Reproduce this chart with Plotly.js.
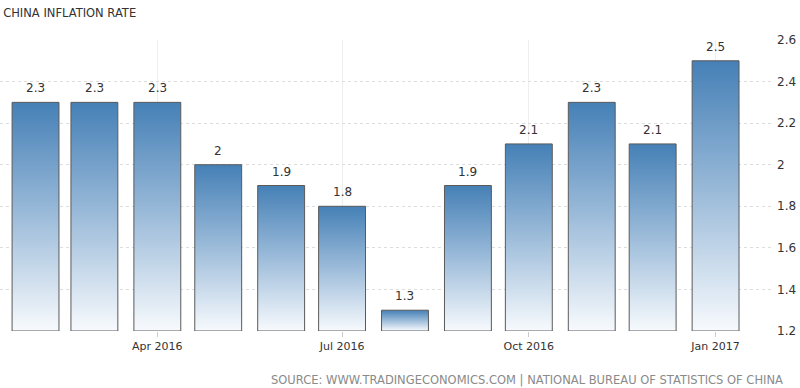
<!DOCTYPE html>
<html>
<head>
<meta charset="utf-8">
<script src="https://cdn.plot.ly/plotly-3.0.1.min.js"></script>
<style>
html,body{margin:0;padding:0;background:#fff;}
#chart{width:800px;height:388px;}
</style>
</head>
<body>
<div id="chart"></div>
<script>
// Data
const months = ['2016-02-01','2016-03-01','2016-04-01','2016-05-01','2016-06-01','2016-07-01',
                '2016-08-01','2016-09-01','2016-10-01','2016-11-01','2016-12-01','2017-01-01'];
const inflation = [2.3, 2.3, 2.3, 2.0, 1.9, 1.8, 1.3, 1.9, 2.1, 2.3, 2.1, 2.5];
const barLabels = ['2.3','2.3','2.3','2','1.9','1.8','1.3','1.9','2.1','2.3','2.1','2.5'];
const chartTitle = 'CHINA INFLATION RATE';
const sourceText = 'SOURCE: WWW.TRADINGECONOMICS.COM | NATIONAL BUREAU OF STATISTICS OF CHINA';

const FONT = 'DejaVu Sans, Verdana, sans-serif';
const DAY = 86400000;
const BASE = 1.2;

const trace = {
  type: 'bar',
  x: months,
  y: inflation.map(v => v - BASE),
  base: BASE,
  width: months.map(() => 23.1 * DAY),
  marker: {color: '#6f9cc6', line: {color: '#5a5a5a', width: 1}},
  hoverinfo: 'x+y'
};

const annotations = months.map((m, i) => ({
  x: m, y: inflation[i], xref: 'x', yref: 'y',
  text: barLabels[i], showarrow: false,
  yanchor: 'bottom', yshift: 5,
  font: {family: FONT, size: 12, color: '#333'}
}));
annotations.push({
  xref: 'paper', yref: 'paper', x: 1.017, y: -0.168,
  xanchor: 'right', yanchor: 'middle', showarrow: false,
  text: sourceText,
  font: {family: FONT, size: 11.5, color: '#8a8a8a'}
});

const layout = {
  width: 800, height: 388,
  margin: {l: 0, r: 28, t: 40, b: 57},
  paper_bgcolor: '#fff', plot_bgcolor: '#fff',
  showlegend: false,
  title: {text: chartTitle, xref: 'container', yref: 'container', x: 0.004, xanchor: 'left',
          y: 1 - 13/388, yanchor: 'middle', font: {family: FONT, size: 11.5, color: '#333'}},
  xaxis: {
    type: 'date',
    range: ['2016-01-14 12:00', '2017-01-28 19:00'],
    tick0: '2016-01-01', dtick: 'M3', tickformat: '%b %Y',
    showgrid: true, gridcolor: '#eeeeee', gridwidth: 1,
    ticks: 'outside', ticklen: 5, tickcolor: '#cccccc',
    showline: false, zeroline: false,
    tickfont: {family: FONT, size: 11, color: '#333'}
  },
  yaxis: {
    side: 'right', range: [1.2, 2.6], tick0: 1.2, dtick: 0.2,
    showgrid: true, gridcolor: '#dddddd', griddash: 'dot', gridwidth: 1,
    ticks: '', showline: false, zeroline: false,
    tickfont: {family: FONT, size: 12, color: '#333'},
    ticklabelstandoff: 4
  },
  annotations: annotations
};

Plotly.newPlot('chart', [trace], layout, {displayModeBar: false, staticPlot: true}).then(gd => {
  const svg = gd.querySelector('.main-svg');
  const ns = 'http://www.w3.org/2000/svg';
  let defs = svg.querySelector('defs');
  if (!defs) { defs = document.createElementNS(ns, 'defs'); svg.insertBefore(defs, svg.firstChild); }
  const lg = document.createElementNS(ns, 'linearGradient');
  lg.setAttribute('id', 'barGrad');
  lg.setAttribute('x1', '0'); lg.setAttribute('y1', '0');
  lg.setAttribute('x2', '0'); lg.setAttribute('y2', '1');
  [['0', '#4580b6'], ['0.5', '#9dbcda'], ['1', '#f7fafd']].forEach(([o, c]) => {
    const s = document.createElementNS(ns, 'stop');
    s.setAttribute('offset', o); s.setAttribute('stop-color', c);
    lg.appendChild(s);
  });
  defs.appendChild(lg);
  gd.querySelectorAll('.bars .point path').forEach(p => {
    p.style.fill = 'url(#barGrad)';
  });
});
</script>
</body>
</html>
